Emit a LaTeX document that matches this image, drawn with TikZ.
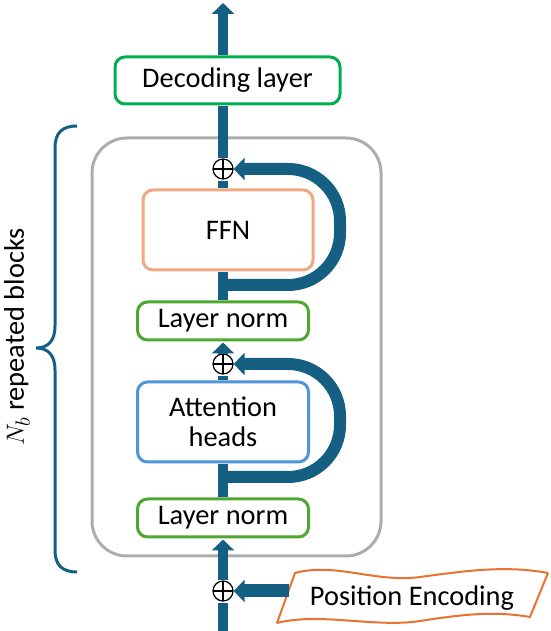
\documentclass[tikz,border=0pt]{standalone}
\usepackage{fontspec}
\setmainfont{Carlito}
\usetikzlibrary{arrows.meta}
\definecolor{flowblue}{HTML}{156082}
\definecolor{decgreen}{HTML}{00B050}
\definecolor{normgreen}{HTML}{4EA72E}
\definecolor{ffnorange}{HTML}{F1A983}
\definecolor{attblue}{HTML}{4E95D9}
\definecolor{blockgray}{HTML}{ADADAD}
\definecolor{peorange}{HTML}{E97132}
\begin{document}
\begin{tikzpicture}[>={Triangle[length=11bp,width=22bp]},line join=bevel,
    every node/.style={font=\fontsize{28.5}{30}\selectfont},
    box/.style={rectangle,fill=white,line width=3bp,rounded corners=10bp,inner sep=0pt,align=center},
    normbox/.style={box,draw=normgreen,minimum width=171bp,minimum height=38bp},
    oplus/.style={circle,draw=black,fill=white,line width=1.2bp,minimum size=20bp,inner sep=0pt,
      path picture={\draw[line width=1.2bp] (path picture bounding box.north) -- (path picture bounding box.south)
        (path picture bounding box.west) -- (path picture bounding box.east);}},
    flow/.style={draw=flowblue,line width=10bp,shorten >=1bp},
    skip/.style={draw=flowblue,line width=12bp,rounded corners=52bp},
    ]
    \useasboundingbox (0bp,0bp) rectangle (551bp,631bp);
    %%
    \node (block) at (236.5bp,284.0bp) [draw=blockgray,line width=3bp,rounded corners=35bp,minimum width=289bp,minimum height=418bp] {};
    \node (dec) at (227.5bp,550.5bp) [box,draw=decgreen,minimum width=225bp,minimum height=47bp] {Decoding layer};
    \node (oplus1) at (223.0bp,462.0bp) [oplus] {};
    \node (ffn) at (228.0bp,401.0bp) [box,draw=ffnorange,minimum width=170bp,minimum height=80bp] {FFN};
    \node (lnA) at (223.0bp,310.0bp) [normbox] {Layer norm};
    \node (oplus2) at (223.0bp,267.0bp) [oplus] {};
    \node (att) at (223.0bp,209.0bp) [box,draw=attblue,minimum width=171bp,minimum height=80bp] {Attention\\heads};
    \node (lnB) at (223.0bp,113.0bp) [normbox] {Layer norm};
    \node (oplus3) at (223.0bp,40.0bp) [oplus] {};
    \coordinate (top) at (223.0bp,629.0bp);
    \coordinate (bot) at (223.0bp,0.0bp);
    \coordinate (tap1) at (223.0bp,346.0bp);
    \coordinate (tap2) at (223.0bp,154.0bp);
    % position encoding tape
    \draw [draw=peorange,fill=white,line width=2bp] (295bp,58bp) ..controls (335bp,69bp) and (375bp,48bp) .. (420bp,54bp)
      ..controls (465bp,60bp) and (505bp,66bp) .. (548bp,58bp) -- (530bp,14bp)
      ..controls (495bp,20bp) and (465bp,17bp) .. (420bp,10bp)
      ..controls (375bp,3bp) and (320bp,19bp) .. (277bp,8bp) -- cycle;
    \node (pe) at (412.0bp,33.0bp) [minimum width=246bp,inner sep=0pt] {Position Encoding};
    %
    \draw [flow] (bot) -- (oplus3);
    \draw [flow,->] (oplus3) -- (lnB);
    \draw [flow] (lnB) -- (att);
    \draw [flow] (att) -- (oplus2);
    \draw [flow,->] (oplus2) -- (lnA);
    \draw [flow] (lnA) -- (lnA |- ffn.south);
    \draw [flow] (ffn.north -| oplus1) -- (oplus1);
    \draw [flow] (oplus1) -- (oplus1 |- dec.south);
    \draw [flow,->] (oplus1 |- dec.north) -- (top);
    \draw [skip,->] (tap1) -- ++(117bp,0bp) |- (oplus1.east);
    \draw [skip,->] (tap2) -- ++(117bp,0bp) |- (oplus2.east);
    \draw [draw=flowblue,line width=13bp,->] (pe.west |- oplus3) -- (oplus3);
    % brace
    \draw [draw=flowblue,line width=3bp] (77bp,505bp) ..controls (62bp,505bp) and (55bp,498bp) .. (55bp,483bp) -- (55bp,305bp)
      ..controls (55bp,290bp) and (48bp,283bp) .. (36bp,283bp)
      ..controls (48bp,283bp) and (55bp,276bp) .. (55bp,261bp) -- (55bp,81bp)
      ..controls (55bp,66bp) and (62bp,59bp) .. (77bp,59bp);
    \node (nb) at (17.0bp,294.0bp) [rotate=90] {$N_b$ repeated blocks};
    %
\end{tikzpicture}
\end{document}
